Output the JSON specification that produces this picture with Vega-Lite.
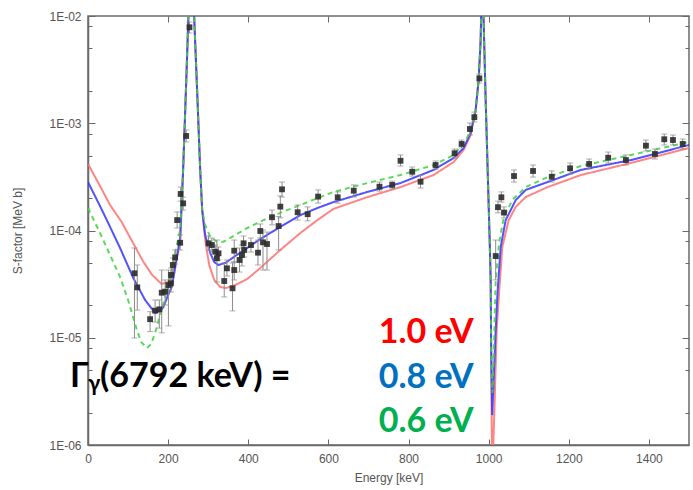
{
"$schema":"https://vega.github.io/schema/vega-lite/v6.json",
"width":601,"height":429,
"autosize":{"type":"none"},
"padding":{"left":88,"top":16,"right":4,"bottom":45},
"background":"#ffffff",
"config":{"view":{"stroke":"#6a6a6a","strokeWidth":1.5},
"axis":{"domainColor":"#6a6a6a","domainWidth":1.5,"tickColor":"#6a6a6a","tickWidth":1,"labelFont":"Liberation Sans","labelFontSize":12,"labelColor":"#555555","titleFont":"Liberation Sans","titleFontSize":12,"titleFontWeight":"normal","titleColor":"#555555","grid":false,"labelOverlap":false,"labelFlush":false}},
"resolve":{"axis":{"x":"independent","y":"independent"},"scale":{"color":"independent"}},
"datasets":{
"curves":[
{"g":"1.0 eV","E":0,"S":4.17e-4},{"g":"1.0 eV","E":30,"S":2.60e-4},{"g":"1.0 eV","E":55,"S":1.73e-4},{"g":"1.0 eV","E":84,"S":1.20e-4},{"g":"1.0 eV","E":112.5,"S":7.64e-5},{"g":"1.0 eV","E":138,"S":5.12e-5},{"g":"1.0 eV","E":160,"S":3.85e-5},{"g":"1.0 eV","E":184,"S":3.17e-5},{"g":"1.0 eV","E":200,"S":3.31e-5},{"g":"1.0 eV","E":210,"S":3.85e-5},{"g":"1.0 eV","E":222,"S":5.66e-5},{"g":"1.0 eV","E":230,"S":7.64e-5},{"g":"1.0 eV","E":237.5,"S":3.74e-4},{"g":"1.0 eV","E":242.5,"S":1.27e-3},{"g":"1.0 eV","E":247.5,"S":4.42e-3},{"g":"1.0 eV","E":251,"S":1.09e-2},{"g":"1.0 eV","E":257.5,"S":3e-2},{"g":"1.0 eV","E":265,"S":9.79e-3},{"g":"1.0 eV","E":272.5,"S":1.96e-3},{"g":"1.0 eV","E":280,"S":3.67e-4},{"g":"1.0 eV","E":285,"S":1.55e-4},{"g":"1.0 eV","E":292.5,"S":8.15e-5},{"g":"1.0 eV","E":302.5,"S":4.77e-5},{"g":"1.0 eV","E":315,"S":3.46e-5},{"g":"1.0 eV","E":330,"S":2.97e-5},{"g":"1.0 eV","E":345,"S":2.91e-5},{"g":"1.0 eV","E":367.5,"S":3.10e-5},{"g":"1.0 eV","E":397.5,"S":3.53e-5},{"g":"1.0 eV","E":430,"S":4.47e-5},{"g":"1.0 eV","E":480,"S":6.58e-5},{"g":"1.0 eV","E":530,"S":9.48e-5},{"g":"1.0 eV","E":572.5,"S":1.25e-4},{"g":"1.0 eV","E":612.5,"S":1.59e-4},{"g":"1.0 eV","E":697.5,"S":2.05e-4},{"g":"1.0 eV","E":780,"S":2.54e-4},{"g":"1.0 eV","E":862.5,"S":3.29e-4},{"g":"1.0 eV","E":912.5,"S":4.35e-4},{"g":"1.0 eV","E":937.5,"S":5.63e-4},{"g":"1.0 eV","E":955,"S":7.77e-4},{"g":"1.0 eV","E":967.5,"S":1.33e-3},{"g":"1.0 eV","E":975,"S":2.53e-3},{"g":"1.0 eV","E":980,"S":5.97e-3},{"g":"1.0 eV","E":984,"S":3e-2},{"g":"1.0 eV","E":988,"S":7.40e-3},{"g":"1.0 eV","E":992.5,"S":1.65e-3},{"g":"1.0 eV","E":997.5,"S":3.67e-4},{"g":"1.0 eV","E":1002.5,"S":8.15e-5},{"g":"1.0 eV","E":1005,"S":3.46e-5},{"g":"1.0 eV","E":1006.25,"S":7.69e-6},{"g":"1.0 eV","E":1007.5,"S":1.71e-6},{"g":"1.0 eV","E":1009,"S":5e-7},{"g":"1.0 eV","E":1015,"S":2.63e-6},{"g":"1.0 eV","E":1020,"S":1.18e-5},{"g":"1.0 eV","E":1026,"S":2.61e-5},{"g":"1.0 eV","E":1034,"S":7.02e-5},{"g":"1.0 eV","E":1050,"S":1.25e-4},{"g":"1.0 eV","E":1067.5,"S":1.66e-4},{"g":"1.0 eV","E":1092.5,"S":2.05e-4},{"g":"1.0 eV","E":1147,"S":2.54e-4},{"g":"1.0 eV","E":1230,"S":3.29e-4},{"g":"1.0 eV","E":1355,"S":4.26e-4},{"g":"1.0 eV","E":1500,"S":5.88e-4},
{"g":"0.8 eV","E":0,"S":2.83e-4},{"g":"0.8 eV","E":30,"S":1.69e-4},{"g":"0.8 eV","E":47,"S":1.25e-4},{"g":"0.8 eV","E":80,"S":6.87e-5},{"g":"0.8 eV","E":113,"S":3.61e-5},{"g":"0.8 eV","E":142.5,"S":2.25e-5},{"g":"0.8 eV","E":167.5,"S":1.70e-5},{"g":"0.8 eV","E":180,"S":1.78e-5},{"g":"0.8 eV","E":188,"S":1.93e-5},{"g":"0.8 eV","E":200,"S":2.50e-5},{"g":"0.8 eV","E":209,"S":2.97e-5},{"g":"0.8 eV","E":217.5,"S":4.47e-5},{"g":"0.8 eV","E":226,"S":7.02e-5},{"g":"0.8 eV","E":230,"S":8.51e-5},{"g":"0.8 eV","E":237.5,"S":3.74e-4},{"g":"0.8 eV","E":242.5,"S":1.27e-3},{"g":"0.8 eV","E":247.5,"S":4.42e-3},{"g":"0.8 eV","E":251,"S":1.09e-2},{"g":"0.8 eV","E":257.5,"S":3e-2},{"g":"0.8 eV","E":265,"S":9.79e-3},{"g":"0.8 eV","E":272.5,"S":1.96e-3},{"g":"0.8 eV","E":280,"S":3.67e-4},{"g":"0.8 eV","E":285,"S":1.55e-4},{"g":"0.8 eV","E":292.5,"S":9.08e-5},{"g":"0.8 eV","E":305,"S":6.17e-5},{"g":"0.8 eV","E":315,"S":5.09e-5},{"g":"0.8 eV","E":325,"S":4.77e-5},{"g":"0.8 eV","E":342.5,"S":4.98e-5},{"g":"0.8 eV","E":367.5,"S":5.78e-5},{"g":"0.8 eV","E":397.5,"S":6.87e-5},{"g":"0.8 eV","E":430,"S":8.33e-5},{"g":"0.8 eV","E":480,"S":1.08e-4},{"g":"0.8 eV","E":530,"S":1.39e-4},{"g":"0.8 eV","E":572.5,"S":1.62e-4},{"g":"0.8 eV","E":612.5,"S":1.84e-4},{"g":"0.8 eV","E":697.5,"S":2.29e-4},{"g":"0.8 eV","E":780,"S":2.77e-4},{"g":"0.8 eV","E":862.5,"S":3.67e-4},{"g":"0.8 eV","E":912.5,"S":4.74e-4},{"g":"0.8 eV","E":937.5,"S":5.88e-4},{"g":"0.8 eV","E":955,"S":8.11e-4},{"g":"0.8 eV","E":967.5,"S":1.33e-3},{"g":"0.8 eV","E":975,"S":2.53e-3},{"g":"0.8 eV","E":980,"S":5.97e-3},{"g":"0.8 eV","E":984,"S":3e-2},{"g":"0.8 eV","E":988,"S":7.40e-3},{"g":"0.8 eV","E":992.5,"S":1.65e-3},{"g":"0.8 eV","E":997.5,"S":3.67e-4},{"g":"0.8 eV","E":1002.5,"S":8.15e-5},{"g":"0.8 eV","E":1005,"S":3.46e-5},{"g":"0.8 eV","E":1006.25,"S":7.69e-6},{"g":"0.8 eV","E":1008.75,"S":1.90e-6},{"g":"0.8 eV","E":1012.5,"S":4.04e-6},{"g":"0.8 eV","E":1017.5,"S":1.18e-5},{"g":"0.8 eV","E":1022,"S":2.61e-5},{"g":"0.8 eV","E":1030,"S":7.02e-5},{"g":"0.8 eV","E":1042.5,"S":1.25e-4},{"g":"0.8 eV","E":1067.5,"S":1.92e-4},{"g":"0.8 eV","E":1092.5,"S":2.39e-4},{"g":"0.8 eV","E":1147,"S":2.83e-4},{"g":"0.8 eV","E":1230,"S":3.67e-4},{"g":"0.8 eV","E":1355,"S":4.54e-4},{"g":"0.8 eV","E":1500,"S":6.27e-4},
{"g":"0.6 eV","E":0,"S":1.62e-4},{"g":"0.6 eV","E":30,"S":9.48e-5},{"g":"0.6 eV","E":55,"S":5.91e-5},{"g":"0.6 eV","E":80,"S":3.69e-5},{"g":"0.6 eV","E":100,"S":2.25e-5},{"g":"0.6 eV","E":122,"S":1.18e-5},{"g":"0.6 eV","E":132.5,"S":9.13e-6},{"g":"0.6 eV","E":147,"S":8.02e-6},{"g":"0.6 eV","E":157.5,"S":8.74e-6},{"g":"0.6 eV","E":167.5,"S":1.11e-5},{"g":"0.6 eV","E":180,"S":1.63e-5},{"g":"0.6 eV","E":192.5,"S":2.40e-5},{"g":"0.6 eV","E":205,"S":3.61e-5},{"g":"0.6 eV","E":213,"S":4.98e-5},{"g":"0.6 eV","E":220,"S":6.87e-5},{"g":"0.6 eV","E":230,"S":1.01e-4},{"g":"0.6 eV","E":237.5,"S":3.74e-4},{"g":"0.6 eV","E":242.5,"S":1.27e-3},{"g":"0.6 eV","E":247.5,"S":4.42e-3},{"g":"0.6 eV","E":251,"S":1.09e-2},{"g":"0.6 eV","E":257.5,"S":3e-2},{"g":"0.6 eV","E":265,"S":9.79e-3},{"g":"0.6 eV","E":272.5,"S":1.96e-3},{"g":"0.6 eV","E":280,"S":3.67e-4},{"g":"0.6 eV","E":285,"S":1.55e-4},{"g":"0.6 eV","E":292.5,"S":1.13e-4},{"g":"0.6 eV","E":305,"S":8.70e-5},{"g":"0.6 eV","E":322,"S":7.86e-5},{"g":"0.6 eV","E":338,"S":7.86e-5},{"g":"0.6 eV","E":367.5,"S":9.08e-5},{"g":"0.6 eV","E":397.5,"S":1.055e-4},{"g":"0.6 eV","E":438,"S":1.25e-4},{"g":"0.6 eV","E":480,"S":1.46e-4},{"g":"0.6 eV","E":530,"S":1.73e-4},{"g":"0.6 eV","E":612.5,"S":2.29e-4},{"g":"0.6 eV","E":697.5,"S":2.77e-4},{"g":"0.6 eV","E":780,"S":3.29e-4},{"g":"0.6 eV","E":862.5,"S":4.08e-4},{"g":"0.6 eV","E":912.5,"S":5.06e-4},{"g":"0.6 eV","E":937.5,"S":6.55e-4},{"g":"0.6 eV","E":955,"S":8.3e-4},{"g":"0.6 eV","E":967.5,"S":1.33e-3},{"g":"0.6 eV","E":975,"S":2.53e-3},{"g":"0.6 eV","E":980,"S":5.97e-3},{"g":"0.6 eV","E":984,"S":3e-2},{"g":"0.6 eV","E":988,"S":7.40e-3},{"g":"0.6 eV","E":992.5,"S":1.65e-3},{"g":"0.6 eV","E":997.5,"S":3.67e-4},{"g":"0.6 eV","E":1002.5,"S":8.15e-5},{"g":"0.6 eV","E":1005,"S":3.46e-5},{"g":"0.6 eV","E":1006.25,"S":7.69e-6},{"g":"0.6 eV","E":1009.5,"S":3.05e-6},{"g":"0.6 eV","E":1013,"S":7.69e-6},{"g":"0.6 eV","E":1017.5,"S":3.46e-5},{"g":"0.6 eV","E":1026,"S":7.64e-5},{"g":"0.6 eV","E":1038,"S":1.34e-4},{"g":"0.6 eV","E":1059,"S":1.92e-4},{"g":"0.6 eV","E":1092.5,"S":2.54e-4},{"g":"0.6 eV","E":1147,"S":3.15e-4},{"g":"0.6 eV","E":1230,"S":3.99e-4},{"g":"0.6 eV","E":1355,"S":5.06e-4},{"g":"0.6 eV","E":1500,"S":6.69e-4}
],
"pts":[
{"E":116,"S":3.99e-5,"lo":9.95e-6,"hi":6.87e-5},{"E":123,"S":2.95e-5,"lo":1.81e-5,"hi":4.77e-5},{"E":155,"S":1.49e-5,"lo":1.14e-5,"hi":1.75e-5},{"E":167.5,"S":1.79e-5,"lo":1.40e-5,"hi":2.25e-5},{"E":178,"S":1.84e-5,"lo":1.23e-5,"hi":2.25e-5},{"E":184,"S":2.63e-5,"lo":1.11e-5,"hi":4.28e-5},{"E":192.5,"S":2.69e-5,"lo":2.02e-5,"hi":3.46e-5},{"E":200.75,"S":3.10e-5,"lo":1.29e-5,"hi":4.28e-5},{"E":207,"S":3.22e-5,"lo":2.67e-5,"hi":3.85e-5},{"E":207.5,"S":3.85e-5,"lo":3.31e-5,"hi":4.47e-5},{"E":211.75,"S":4.77e-5,"lo":4.10e-5,"hi":5.54e-5},{"E":217.5,"S":5.62e-5,"lo":4.87e-5,"hi":6.58e-5},{"E":230,"S":7.69e-5,"lo":6.58e-5,"hi":9.08e-5},{"E":222.5,"S":1.25e-4,"lo":1.055e-4,"hi":1.49e-4},{"E":231.25,"S":2.19e-4,"lo":1.88e-4,"hi":2.54e-4},{"E":237.5,"S":1.79e-4,"lo":1.55e-4,"hi":2.05e-4},{"E":245,"S":7.61e-4,"lo":6.69e-4,"hi":8.65e-4},{"E":253.25,"S":7.85e-3,"lo":6.94e-3,"hi":8.79e-3},
{"E":300.75,"S":7.60e-5,"lo":6.58e-5,"hi":8.89e-5},{"E":309.25,"S":7.32e-5,"lo":6.30e-5,"hi":8.51e-5},{"E":317.5,"S":6.34e-5,"lo":5.54e-5,"hi":7.32e-5},{"E":325.75,"S":6.13e-5,"lo":5.31e-5,"hi":7.02e-5},{"E":321.75,"S":5.51e-5,"lo":3.31e-5,"hi":8.15e-5},{"E":346.75,"S":4.44e-5,"lo":3.77e-5,"hi":5.31e-5},{"E":340,"S":3.38e-5,"lo":2.40e-5,"hi":4.98e-5},{"E":360.75,"S":2.89e-5,"lo":1.78e-5,"hi":4.98e-5},{"E":365,"S":6.48e-5,"lo":5.09e-5,"hi":8.15e-5},{"E":365,"S":4.28e-5,"lo":3.46e-5,"hi":5.09e-5},{"E":378.25,"S":5.31e-5,"lo":4.10e-5,"hi":6.87e-5},{"E":384.25,"S":5.91e-5,"lo":4.67e-5,"hi":7.32e-5},{"E":388.25,"S":7.60e-5,"lo":6.44e-5,"hi":8.89e-5},{"E":390,"S":6.58e-5,"lo":5.66e-5,"hi":7.64e-5},{"E":406.75,"S":7.32e-5,"lo":6.30e-5,"hi":8.51e-5},{"E":424.25,"S":6.21e-5,"lo":4.77e-5,"hi":8.15e-5},{"E":430,"S":9.89e-5,"lo":8.51e-5,"hi":1.15e-4},{"E":436.75,"S":7.76e-5,"lo":4.28e-5,"hi":1.01e-4},{"E":446.75,"S":7.48e-5,"lo":4.28e-5,"hi":9.68e-5},{"E":459.25,"S":1.33e-4,"lo":1.13e-4,"hi":1.55e-4},{"E":475.75,"S":1.10e-4,"lo":6.58e-5,"hi":1.35e-4},{"E":480,"S":1.67e-4,"lo":1.31e-4,"hi":2.10e-4},{"E":484.25,"S":2.42e-4,"lo":2.05e-4,"hi":2.83e-4},{"E":523.25,"S":1.48e-4,"lo":1.25e-4,"hi":1.73e-4},{"E":548.25,"S":1.42e-4,"lo":1.23e-4,"hi":1.66e-4},{"E":574.25,"S":2.07e-4,"lo":1.80e-4,"hi":2.39e-4},{"E":623.25,"S":2.04e-4,"lo":1.80e-4,"hi":2.29e-4},{"E":663.25,"S":2.35e-4,"lo":2.05e-4,"hi":2.66e-4},{"E":727.5,"S":2.56e-4,"lo":2.33e-4,"hi":2.83e-4},{"E":759.25,"S":2.66e-4,"lo":2.44e-4,"hi":2.89e-4},{"E":780,"S":4.47e-4,"lo":3.99e-4,"hi":5.06e-4},{"E":809.25,"S":3.53e-4,"lo":3.22e-4,"hi":3.91e-4},{"E":830,"S":2.85e-4,"lo":2.49e-4,"hi":3.29e-4},{"E":867.5,"S":4.08e-4,"lo":3.74e-4,"hi":4.45e-4},{"E":915,"S":5.25e-4,"lo":4.74e-4,"hi":5.75e-4},{"E":932.5,"S":6.41e-4,"lo":5.88e-4,"hi":6.98e-4},{"E":953.25,"S":8.84e-4,"lo":7.77e-4,"hi":1.005e-3},{"E":964.25,"S":1.14e-3,"lo":1.03e-3,"hi":1.27e-3},{"E":976.75,"S":2.62e-3,"lo":2.37e-3,"hi":2.88e-3},
{"E":1017.5,"S":5.78e-5,"lo":3.46e-5,"hi":8.15e-5},{"E":1023.25,"S":1.65e-4,"lo":1.46e-4,"hi":1.88e-4},{"E":1031.75,"S":2.04e-4,"lo":1.84e-4,"hi":2.29e-4},{"E":1038.25,"S":1.47e-4,"lo":1.31e-4,"hi":1.66e-4},{"E":1063.25,"S":3.22e-4,"lo":2.83e-4,"hi":3.67e-4},{"E":1110.75,"S":3.59e-4,"lo":3.15e-4,"hi":4.08e-4},{"E":1157.5,"S":3.17e-4,"lo":2.83e-4,"hi":3.59e-4},{"E":1203.25,"S":3.80e-4,"lo":3.36e-4,"hi":4.26e-4},{"E":1250.75,"S":4.17e-4,"lo":3.74e-4,"hi":4.64e-4},{"E":1298.25,"S":4.77e-4,"lo":4.26e-4,"hi":5.39e-4},{"E":1342.5,"S":4.54e-4,"lo":4.08e-4,"hi":5.06e-4},{"E":1392.5,"S":6.18e-4,"lo":5.51e-4,"hi":6.98e-4},{"E":1415,"S":5.17e-4,"lo":4.64e-4,"hi":5.75e-4},{"E":1438.25,"S":7.09e-4,"lo":6.27e-4,"hi":7.94e-4},{"E":1460,"S":6.98e-4,"lo":6.27e-4,"hi":7.77e-4},{"E":1484.25,"S":6.41e-4,"lo":5.75e-4,"hi":7.13e-4}
]
},
"layer":[
{"data":{"name":"curves"},
 "mark":{"type":"line","clip":true,"strokeWidth":2,"opacity":0.85},
 "encoding":{
  "x":{"field":"E","type":"quantitative","scale":{"domain":[0,1500],"nice":false,"zero":false},
       "axis":{"orient":"bottom","values":[0,200,400,600,800,1000,1200,1400],"format":"d","title":"Energy [keV]","tickSize":-6,"labelPadding":14,"titlePadding":8}},
  "y":{"field":"S","type":"quantitative","scale":{"type":"log","domain":[1e-6,1e-2],"nice":false},
       "axis":{"orient":"left","values":[1e-6,2e-6,5e-6,8e-6,1e-5,2e-5,5e-5,8e-5,1e-4,2e-4,5e-4,8e-4,1e-3,2e-3,5e-3,8e-3,1e-2],
        "labelExpr":"abs(log(datum.value)/LN10 - round(log(datum.value)/LN10)) < 0.01 ? '1E-0' + (-round(log(datum.value)/LN10)) : ''",
        "tickSize":{"condition":{"test":"abs(log(datum.value)/LN10 - round(log(datum.value)/LN10)) < 0.01","value":-7},"value":-4},
        "labelPadding":14,"title":"S-factor [MeV b]","titlePadding":24}},
  "color":{"field":"g","type":"nominal","scale":{"domain":["0.6 eV","0.8 eV","1.0 eV"],"range":["#3fd23f","#3434ff","#ff7070"]},"legend":null},
  "strokeDash":{"field":"g","type":"nominal","scale":{"domain":["0.6 eV","0.8 eV","1.0 eV"],"range":[[5,4],[1,0],[1,0]]},"legend":null},
  "order":{"field":"E","type":"quantitative"}
 }},
{"data":{"name":"pts"},
 "mark":{"type":"rule","color":"#8c8c8c","strokeWidth":1},
 "encoding":{"x":{"field":"E","type":"quantitative","axis":null},"y":{"field":"lo","type":"quantitative","axis":null},"y2":{"field":"hi"}}},
{"data":{"name":"pts"},
 "mark":{"type":"tick","orient":"horizontal","size":6,"thickness":1,"color":"#8c8c8c"},
 "encoding":{"x":{"field":"E","type":"quantitative","axis":null},"y":{"field":"lo","type":"quantitative","axis":null}}},
{"data":{"name":"pts"},
 "mark":{"type":"tick","orient":"horizontal","size":6,"thickness":1,"color":"#8c8c8c"},
 "encoding":{"x":{"field":"E","type":"quantitative","axis":null},"y":{"field":"hi","type":"quantitative","axis":null}}},
{"data":{"name":"pts"},
 "mark":{"type":"point","shape":"square","filled":true,"size":34,"color":"#2b2b2b","opacity":0.9},
 "encoding":{
  "x":{"field":"E","type":"quantitative","axis":{"orient":"top","values":[0,200,400,600,800,1000,1200,1400],"labels":false,"title":null,"tickSize":-6,"domain":false}},
  "y":{"field":"S","type":"quantitative","axis":{"orient":"right","values":[1e-6,2e-6,5e-6,8e-6,1e-5,2e-5,5e-5,8e-5,1e-4,2e-4,5e-4,8e-4,1e-3,2e-3,5e-3,8e-3,1e-2],"labels":false,"title":null,"domain":false,
   "tickSize":{"condition":{"test":"abs(log(datum.value)/LN10 - round(log(datum.value)/LN10)) < 0.01","value":-7},"value":-4}}}
 }},
{"data":{"values":[{"t":"1.0 eV","E":962.5,"S":8.93e-6},{"t":"0.8 eV","E":962.5,"S":3.40e-6},{"t":"0.6 eV","E":962.5,"S":1.32e-6}]},
 "mark":{"type":"text","align":"right","baseline":"alphabetic","font":"Lato","fontWeight":"bold","fontSize":34},
 "encoding":{"x":{"field":"E","type":"quantitative","axis":null},"y":{"field":"S","type":"quantitative","axis":null},"text":{"field":"t"},
  "color":{"field":"t","type":"nominal","scale":{"domain":["1.0 eV","0.8 eV","0.6 eV"],"range":["#ff0000","#0070c0","#00b050"]},"legend":null}}},
{"data":{"values":[{"t":"Γ","E":-45,"S":3.47e-6},{"t":"(6792 keV) =","E":30,"S":3.47e-6}]},
 "mark":{"type":"text","align":"left","baseline":"alphabetic","font":"Lato","fontWeight":"bold","fontSize":34,"color":"#000000"},
 "encoding":{"x":{"field":"E","type":"quantitative","axis":null},"y":{"field":"S","type":"quantitative","axis":null},"text":{"field":"t"}}},
{"data":{"values":[{"t":"γ","E":0,"S":3.2e-6}]},
 "mark":{"type":"text","align":"left","baseline":"alphabetic","font":"Lato","fontWeight":"bold","fontSize":22,"color":"#000000"},
 "encoding":{"x":{"field":"E","type":"quantitative","axis":null},"y":{"field":"S","type":"quantitative","axis":null},"text":{"field":"t"}}}
]
}
